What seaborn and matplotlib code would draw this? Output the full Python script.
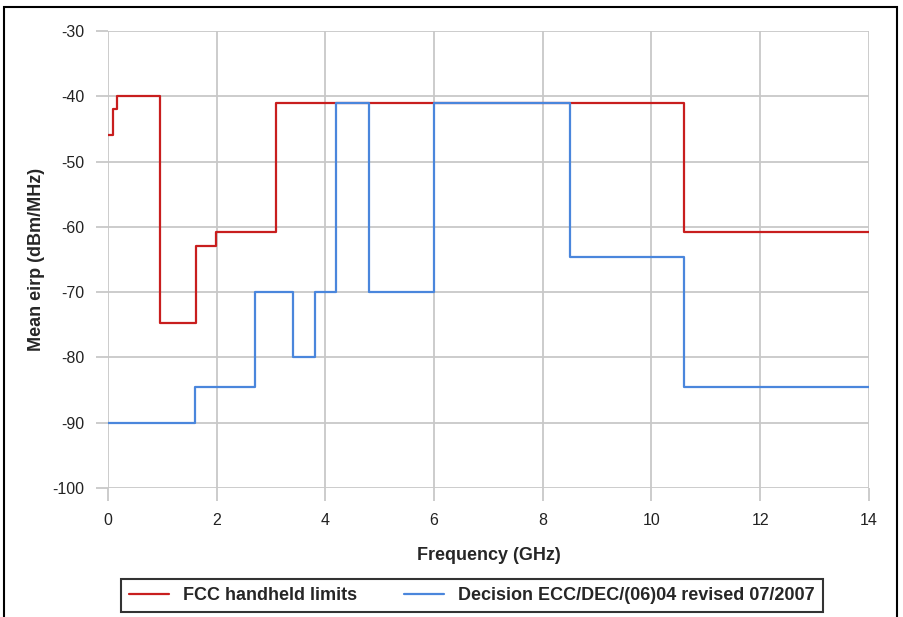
import matplotlib
matplotlib.use("Agg")
import matplotlib.pyplot as plt
import seaborn as sns
import pandas as pd
from matplotlib.patches import Rectangle

fcc_freq = [0, 0.1, 0.17, 0.96, 1.61, 1.99, 3.1, 10.6, 14]
fcc_eirp = [-46, -42, -40, -74.7, -62.9, -60.8, -41, -60.8, -60.8]
ecc_freq = [0, 1.6, 2.7, 3.4, 3.8, 4.2, 4.8, 6.0, 8.5, 10.6, 14]
ecc_eirp = [-90, -84.5, -70, -80, -70, -41, -70, -41, -64.6, -84.5, -84.5]
series_names = ["FCC handheld limits", "Decision ECC/DEC/(06)04 revised 07/2007"]
x_ticks = [0, 2, 4, 6, 8, 10, 12, 14]
y_ticks = [-100, -90, -80, -70, -60, -50, -40, -30]

df = pd.concat([
    pd.DataFrame({"freq": fcc_freq, "eirp": fcc_eirp, "series": series_names[0]}),
    pd.DataFrame({"freq": ecc_freq, "eirp": ecc_eirp, "series": series_names[1]}),
])

sns.set_style("white")
plt.rcParams["font.family"] = ["Liberation Sans", "DejaVu Sans"]
plt.rcParams["axes.unicode_minus"] = False

fig = plt.figure(figsize=(9.04, 6.17), dpi=100)
ax = fig.add_axes([0.1195, 0.209, 0.8415, 0.7408])

sns.lineplot(data=df, x="freq", y="eirp", hue="series", ax=ax,
             palette={series_names[0]: "#C81E1E", series_names[1]: "#4A86DC"},
             drawstyle="steps-post", linewidth=1.6, sort=False, estimator=None)

ax.set_xlim(0, 14)
ax.set_ylim(-100, -30)
ax.set_xticks(x_ticks)
ax.set_yticks(y_ticks)
ax.grid(True, color="#C8C8C8", linewidth=1.3)
ax.set_axisbelow(True)
for s in ax.spines.values():
    s.set_visible(False)
ax.tick_params(axis="both", which="both", bottom=True, left=True, direction="out",
               length=9, width=1.3, color="#C8C8C8",
               labelsize=11.5, labelcolor="#222222")
ax.tick_params(axis="x", pad=9)
ax.tick_params(axis="y", pad=8)
ax.set_xlabel("Frequency (GHz)", fontsize=13, fontweight="bold", labelpad=14)
ax.set_ylabel("Mean eirp (dBm/MHz)", fontsize=13, fontweight="bold", labelpad=5)

ax.get_legend().remove()
handles, labels = ax.get_legend_handles_labels()
leg = fig.legend(handles, labels, loc="center", bbox_to_anchor=(0.522, 0.035), ncol=2,
                 frameon=True, fancybox=False, edgecolor="black",
                 prop={"weight": "bold", "size": 13}, handlelength=2.2,
                 columnspacing=2.6, borderpad=0.45)
leg.get_frame().set_linewidth(1.5)

fig.patches.append(Rectangle((4 / 904, -0.1), 893 / 904, 1.1 - 7 / 617,
                             transform=fig.transFigure, fill=False,
                             edgecolor="black", linewidth=1.5, clip_on=False))

fig.savefig("out.png", dpi=100)
